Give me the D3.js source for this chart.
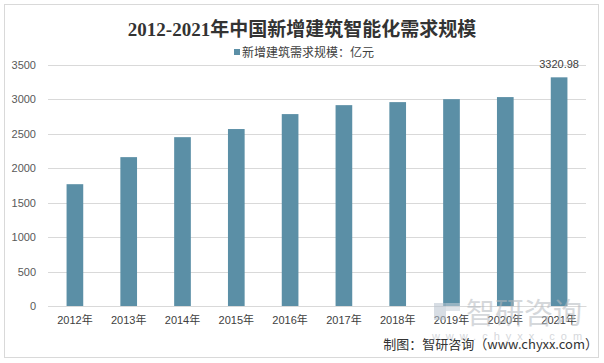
<!DOCTYPE html>
<html>
<head>
<meta charset="utf-8">
<script src="https://cdn.jsdelivr.net/npm/d3@7"></script>
<style>
  body { margin: 0; background: #fff; }
  text { font-family: "Liberation Sans", "Noto Sans CJK SC", sans-serif; }
</style>
</head>
<body>
<svg id="chart" width="604" height="363"></svg>
<script>
// data
const years = ['2012年', '2013年', '2014年', '2015年', '2016年', '2017年', '2018年', '2019年', '2020年', '2021年'];
const demand = [1769, 2162, 2452, 2570, 2787, 2917, 2961, 3004, 3034, 3320.98];
const yTicks = [0, 500, 1000, 1500, 2000, 2500, 3000, 3500];
const seriesName = '新增建筑需求规模：亿元';

const barColor = '#5b8fa6';
const svg = d3.select('#chart');

// outer frame
svg.append('rect')
    .attr('x', 4.5).attr('y', 4.5)
    .attr('width', 594).attr('height', 353)
    .attr('fill', '#fff')
    .attr('stroke', '#d9d9d9');

const margin = { top: 65, right: 18, bottom: 57, left: 48 };
const graphWidth = 604 - margin.left - margin.right;
const graphHeight = 363 - margin.top - margin.bottom;

const graph = svg.append('g')
    .attr('transform', `translate(${margin.left}, ${margin.top})`);

const x = d3.scaleBand()
    .domain(years)
    .range([0, graphWidth])
    .paddingInner(0.69)
    .paddingOuter(0.345);

const y = d3.scaleLinear()
    .domain([0, 3500])
    .range([graphHeight, 0]);

// gridlines
graph.append('g')
    .selectAll('line')
    .data(yTicks)
    .enter()
    .append('line')
    .attr('x1', 0).attr('x2', graphWidth)
    .attr('y1', d => Math.round(y(d)) + 0.5)
    .attr('y2', d => Math.round(y(d)) + 0.5)
    .attr('stroke', '#d9d9d9');

// y axis labels
const yAxis = d3.axisLeft(y)
    .tickValues(yTicks)
    .tickFormat(d3.format('d'))
    .tickSize(0)
    .tickPadding(12);
const yAxisGroup = graph.append('g').call(yAxis);
yAxisGroup.select('.domain').remove();
yAxisGroup.selectAll('text')
    .attr('fill', '#595959')
    .style('font-size', '11px');

// bars
graph.selectAll('rect.bar')
    .data(demand)
    .enter()
    .append('rect')
    .attr('class', 'bar')
    .attr('x', (d, i) => x(years[i]))
    .attr('width', x.bandwidth())
    .attr('y', d => y(d))
    .attr('height', d => graphHeight - y(d))
    .attr('fill', barColor);

// x axis
const xAxis = d3.axisBottom(x).tickSize(0).tickPadding(10);
const xAxisGroup = graph.append('g')
    .attr('transform', `translate(0, ${graphHeight})`)
    .call(xAxis);
xAxisGroup.select('.domain').attr('stroke', '#d9d9d9');
xAxisGroup.selectAll('text')
    .attr('fill', '#404040')
    .style('font-size', '11px');

// label on last bar
const last = demand.length - 1;
graph.append('text')
    .attr('x', x(years[last]) + x.bandwidth() / 2)
    .attr('y', y(demand[last]) - 9)
    .attr('text-anchor', 'middle')
    .attr('fill', '#404040')
    .style('font-size', '11px')
    .text(d3.format('.2f')(demand[last]));

// title
svg.append('text')
    .attr('x', 302)
    .attr('y', 36)
    .attr('text-anchor', 'middle')
    .attr('fill', '#333')
    .style('font-family', '"Liberation Serif", "Noto Sans CJK SC", serif')
    .style('font-size', '19px')
    .style('font-weight', 'bold')
    .text('2012-2021年中国新增建筑智能化需求规模');

// legend
svg.append('rect')
    .attr('x', 234).attr('y', 49)
    .attr('width', 6).attr('height', 6)
    .attr('fill', barColor);
svg.append('text')
    .attr('x', 242)
    .attr('y', 57)
    .attr('fill', '#404040')
    .style('font-family', '"Noto Sans CJK SC", sans-serif')
    .style('font-size', '12px')
    .text(seriesName);

// watermark
const wm = svg.append('g').attr('opacity', 0.55);
wm.append('rect')
    .attr('x', 434).attr('y', 303).attr('width', 12).attr('height', 17)
    .attr('fill', '#b8c3cf');
wm.append('rect')
    .attr('x', 446).attr('y', 303).attr('width', 14).attr('height', 8)
    .attr('fill', '#c9d1da');
wm.append('text')
    .attr('x', 466).attr('y', 324)
    .attr('fill', '#b4b9bf')
    .style('font-family', '"Noto Sans CJK SC", sans-serif')
    .style('font-size', '29px')
    .text('智研咨询');
wm.append('text')
    .attr('x', 510).attr('y', 340)
    .attr('text-anchor', 'middle')
    .attr('fill', '#b4b9bf')
    .style('font-size', '11px')
    .style('letter-spacing', '6px')
    .text('www.chyxx.com');

// source
svg.append('text')
    .attr('x', 598)
    .attr('y', 349)
    .attr('text-anchor', 'end')
    .attr('fill', '#333')
    .style('font-family', '"Noto Sans CJK SC", sans-serif')
    .style('font-size', '13px')
    .text('制图：智研咨询（www.chyxx.com）');
</script>
</body>
</html>
